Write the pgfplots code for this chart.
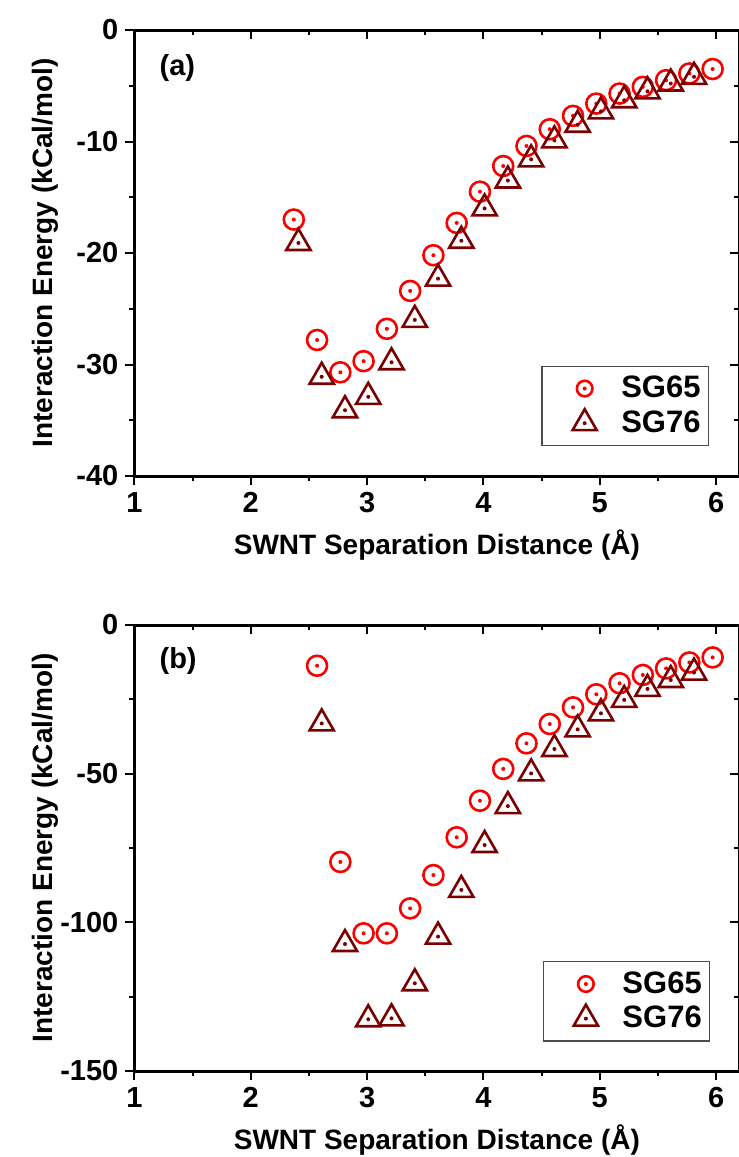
\documentclass[border=0pt]{standalone}
\usepackage{pgfplots}
\pgfplotsset{compat=1.18}
\usepackage{fontspec}
\setmainfont{Liberation Sans}

\definecolor{sgred}{RGB}{250,0,0}
\definecolor{sgdark}{RGB}{120,0,0}

% outline marks with a small dot in the middle
\pgfdeclareplotmark{dotcirc}{%
  \pgfpathcircle{\pgfpointorigin}{\pgfplotmarksize}\pgfusepathqstroke
  \pgfpathcircle{\pgfpointorigin}{1pt}\pgfusepathqfill}
\pgfdeclareplotmark{dottri}{%
  \pgfpathmoveto{\pgfqpointpolar{90}{\pgfplotmarksize}}%
  \pgfpathlineto{\pgfqpointpolar{210}{\pgfplotmarksize}}%
  \pgfpathlineto{\pgfqpointpolar{330}{\pgfplotmarksize}}%
  \pgfpathclose\pgfusepathqstroke
  \pgfpathcircle{\pgfpointorigin}{1pt}\pgfusepathqfill}

\pgfplotsset{
  panel/.style={
    scale only axis, width=302.5pt, height=223pt,
    xmin=1, xmax=6.2, xtick={1,...,6}, minor x tick num=1,
    minor y tick num=1,
    major tick length=4.5pt, minor tick length=2.5pt,
    axis line style={line width=1.5pt},
    every tick/.style={black, line width=1pt},
  },
  mainpanel/.style={
    panel,
    tick align=outside, xtick pos=bottom, ytick pos=left,
    tick label style={font=\fontsize{14.5}{16}\selectfont\bfseries},
    /pgf/number format/assume math mode=true,
    label style={font=\fontsize{14}{16}\selectfont\bfseries},
    xlabel={SWNT Separation Distance (Å)},
    ylabel={Interaction Energy (kCal/mol)},
    xlabel style={at={(axis description cs:0.5,-0.155)}, anchor=center},
    ylabel style={at={(axis description cs:-0.148,0.5)}, anchor=center},
    legend cell align=left,
    legend image code/.code={%
      \path (0pt,0pt) (35pt,0pt);
      \draw[#1] plot coordinates {(19pt,0pt)};},
    legend style={anchor=south east, draw=black!70, line width=0.6pt,
      font=\fontsize{15.5}{17}\selectfont\bfseries,
      inner xsep=2pt, inner ysep=3pt, row sep=1pt,
      nodes={inner xsep=2pt}},
  },
  mirror/.style={
    panel,
    tick align=inside, xtick pos=top, ytick pos=right,
    xticklabels={}, yticklabels={},
    axis line style={draw=none},
  },
  sg65/.style={only marks, mark=dotcirc, mark size=5pt, color=sgred,
    mark options={line width=1.3pt},
    legend image post style={mark size=3.9pt}},
  sg76/.style={only marks, mark=dottri, mark size=7pt, color=sgdark,
    mark options={line width=1.3pt}},
}

\pgfplotstableread{
x y
2.37 -17.0
2.57 -27.8
2.77 -30.7
2.97 -29.7
3.17 -26.8
3.37 -23.4
3.57 -20.2
3.77 -17.3
3.97 -14.5
4.17 -12.2
4.37 -10.4
4.57 -8.9
4.77 -7.7
4.97 -6.6
5.17 -5.7
5.37 -5.1
5.57 -4.5
5.77 -3.9
5.97 -3.5
}\aSGsixfive

\pgfplotstableread{
x y
2.41 -19.1
2.61 -31.1
2.81 -34.1
3.01 -32.9
3.21 -29.8
3.41 -26.0
3.61 -22.3
3.81 -18.9
4.01 -16.0
4.21 -13.5
4.41 -11.6
4.61 -9.9
4.81 -8.5
5.01 -7.3
5.21 -6.3
5.41 -5.5
5.61 -4.8
5.81 -4.2
}\aSGsevensix

\pgfplotstableread{
x y
2.57 -13.7
2.77 -79.7
2.97 -103.7
3.17 -103.7
3.37 -95.3
3.57 -84.1
3.77 -71.4
3.97 -59.1
4.17 -48.4
4.37 -39.8
4.57 -33.3
4.77 -27.7
4.97 -23.3
5.17 -19.6
5.37 -16.8
5.57 -14.6
5.77 -12.6
5.97 -10.9
}\bSGsixfive

\pgfplotstableread{
x y
2.61 -33.1
2.81 -107.3
3.01 -132.6
3.21 -132.3
3.41 -120.5
3.61 -104.8
3.81 -89.1
4.01 -74.0
4.21 -60.9
4.41 -49.9
4.61 -41.7
4.81 -35.1
5.01 -29.7
5.21 -25.2
5.41 -21.5
5.61 -18.5
5.81 -16.0
}\bSGsevensix

\begin{document}
\begin{tikzpicture}
\useasboundingbox (-67.2pt,-340.5pt) rectangle (302.3pt,238pt);

% (a)
\begin{axis}[mainpanel, at={(0,0)}, ymin=-40, ymax=0, ytick={0,-10,...,-40},
  legend style={at={(axis description cs:0.95,0.067)}}]
\addplot[sg65] table {\aSGsixfive};
\addlegendentry{SG65}
\addplot[sg76] table {\aSGsevensix};
\addlegendentry{SG76}
\node[anchor=west, font=\fontsize{14.5}{16}\selectfont\bfseries]
  at (axis description cs:0.03,0.915) {(a)};
\end{axis}
\begin{axis}[mirror, at={(0,0)}, ymin=-40, ymax=0, ytick={0,-10,...,-40}]
\end{axis}

% (b)
\begin{axis}[mainpanel, at={(0,-297.5pt)}, ymin=-150, ymax=0, ytick={0,-50,-100,-150},
  legend style={at={(axis description cs:0.952,0.066)}}]
\addplot[sg65] table {\bSGsixfive};
\addlegendentry{SG65}
\addplot[sg76] table {\bSGsevensix};
\addlegendentry{SG76}
\node[anchor=west, font=\fontsize{14.5}{16}\selectfont\bfseries]
  at (axis description cs:0.03,0.92) {(b)};
\end{axis}
\begin{axis}[mirror, at={(0,-297.5pt)}, ymin=-150, ymax=0, ytick={0,-50,-100,-150}]
\end{axis}
\end{tikzpicture}
\end{document}
